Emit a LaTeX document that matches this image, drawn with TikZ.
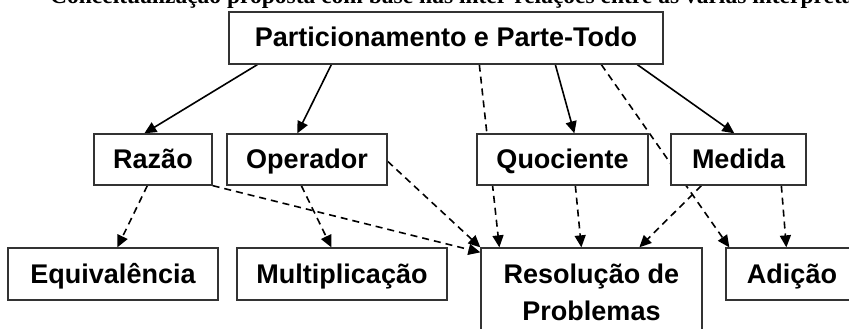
\documentclass[tikz,border=0pt]{standalone}
\usepackage{fontspec}
\setmainfont{Liberation Sans}
\newfontfamily\capfont{Liberation Serif}
\usetikzlibrary{arrows.meta,calc,backgrounds}
\begin{document}
\begin{tikzpicture}[x=1pt,y=-1pt,
  box/.style={draw=black!80,line width=1.3pt,fill=white,inner sep=0pt,
    text height=24pt,text depth=6pt,
    font=\fontsize{27}{37}\selectfont\bfseries,align=center},
  solidarrow/.style={line width=1.6pt,-{Triangle[length=12pt,width=11pt]}},
  dasharrow/.style={solidarrow,dash pattern=on 7pt off 5pt}]
\useasboundingbox (0,0) rectangle (849,329);
\clip (0,0) rectangle (849,329);
\node[anchor=base west,font=\capfont\fontsize{23.5}{26}\selectfont\bfseries,inner sep=0pt] (cap) at (50,4) {Conceitualização proposta com base nas inter-relações entre as várias interpretações};
\node[box,minimum width=434pt,minimum height=52pt] (top) at (446,38) {Particionamento e Parte-Todo};
\node[box,minimum width=118pt,minimum height=51pt] (raz) at (153,159.5) {Razão};
\node[box,minimum width=160pt,minimum height=51pt] (ope) at (307,159.5) {Operador};
\node[box,minimum width=171pt,minimum height=51pt] (quo) at (562.5,159.5) {Quociente};
\node[box,minimum width=135pt,minimum height=51pt] (med) at (738.5,159.5) {Medida};
\node[box,minimum width=210pt,minimum height=52pt] (equ) at (113,274) {Equivalência};
\node[box,minimum width=210pt,minimum height=52pt] (mul) at (342,274) {Multiplicação};
\node[box,text height=,text depth=,minimum width=221pt,minimum height=89pt] (res) at (591.5,292.5) {Resolução de\\Problemas};
\node[box,minimum width=132pt,minimum height=52pt] (adi) at (792,274) {Adição};
\begin{scope}[on background layer]
\draw[solidarrow] ($(top.south west)+(29,0)$) -- ($(raz.north west)+(51,0)$);
\draw[solidarrow] ($(top.south west)+(103,0)$) -- ($(ope.north west)+(71,0)$);
\draw[dasharrow] ($(top.south west)+(251,0)$) -- ($(res.north west)+(19,0)$);
\draw[solidarrow] ($(top.south west)+(327,0)$) -- ($(quo.north west)+(98,0)$);
\draw[dasharrow] ($(top.south west)+(373,0)$) -- ($(adi.north west)+(4,0)$);
\draw[solidarrow] ($(top.south west)+(409,0)$) -- ($(med.north west)+(64,0)$);
\draw[dasharrow] ($(raz.south west)+(54,0)$) -- ($(equ.north west)+(110,0)$);
\draw[dasharrow] ($(ope.south west)+(75,0)$) -- ($(mul.north west)+(95,0)$);
\draw[dasharrow] (raz.south east) -- ($(res.north west)+(0,5)$);
\draw[dasharrow] ($(ope.north east)+(0,28)$) -- (res.north west);
\draw[dasharrow] ($(quo.south west)+(99,0)$) -- ($(res.north west)+(101,0)$);
\draw[dasharrow] ($(med.south west)+(31,0)$) -- ($(res.north west)+(159,0)$);
\draw[dasharrow] ($(med.south west)+(111,0)$) -- ($(adi.north west)+(61,0)$);
\end{scope}
\end{tikzpicture}
\end{document}
